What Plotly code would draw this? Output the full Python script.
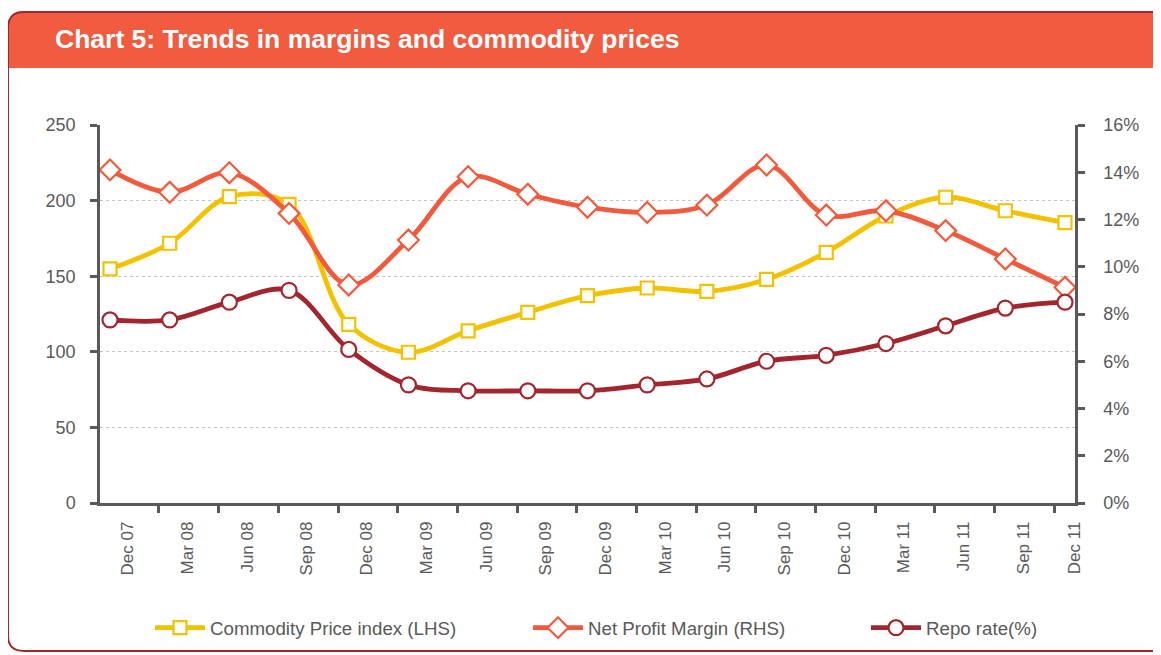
import plotly.graph_objects as go

categories = ["Dec 07", "Mar 08", "Jun 08", "Sep 08", "Dec 08", "Mar 09", "Jun 09", "Sep 09",
              "Dec 09", "Mar 10", "Jun 10", "Sep 10", "Dec 10", "Mar 11", "Jun 11", "Sep 11", "Dec 11"]
commodity_index = [154.8, 171.8, 202.6, 197.5, 118.2, 99.7, 113.9, 126.1, 137.1, 142.2, 140.0,
                   147.9, 165.8, 189.8, 202.2, 193.3, 185.4]
net_profit_margin = [14.1, 13.15, 13.98, 12.26, 9.23, 11.13, 13.81, 13.07, 12.52, 12.30, 12.61,
                     14.31, 12.19, 12.37, 11.53, 10.33, 9.13]
repo_rate = [7.75, 7.75, 8.5, 9.0, 6.5, 5.0, 4.75, 4.75, 4.75, 5.0, 5.25, 6.0, 6.25, 6.75, 7.5,
             8.25, 8.5]
left_ticks = [0, 50, 100, 150, 200, 250]
right_ticks = [0, 2, 4, 6, 8, 10, 12, 14, 16]
right_tick_text = ["0%", "2%", "4%", "6%", "8%", "10%", "12%", "14%", "16%"]

# the page body has an 8px margin; work in page pixels and convert
OFF = 8
PAGE_W, PAGE_H = 1161, 655
W, H = PAGE_W - OFF, PAGE_H - OFF
L, R, T, B = 100, 1075, 125, 503          # plot area in page pixels
PW, PH = R - L, B - T


def px(x):
    return (x - L) / PW


def py(y):
    return (B - y) / PH


def cx(x):
    return (x - OFF) / W


def cy(y):
    return 1 - (y - OFF) / H


xs = list(range(len(categories)))
FONT = "Liberation Sans, Arial, sans-serif"
GREY = "#595959"

YEL = "#F2C200"
ORG = "#F15A3C"
RED = "#A3262E"

fig = go.Figure()
fig.add_trace(go.Scatter(
    x=xs, y=commodity_index, name="Commodity Price index (LHS)", mode="lines+markers",
    line=dict(color=YEL, width=4.8, shape="spline", smoothing=1.0),
    marker=dict(symbol="square", size=13, color="white", line=dict(color=YEL, width=2.2)),
    yaxis="y", legend="legend"))
fig.add_trace(go.Scatter(
    x=xs, y=net_profit_margin, name="Net Profit Margin (RHS)", mode="lines+markers",
    line=dict(color=ORG, width=4.8, shape="spline", smoothing=1.0),
    marker=dict(symbol="diamond", size=16, color="white", line=dict(color=ORG, width=2.2)),
    yaxis="y2", legend="legend2"))
fig.add_trace(go.Scatter(
    x=xs, y=repo_rate, name="Repo rate(%)", mode="lines+markers",
    line=dict(color=RED, width=4.8, shape="spline", smoothing=1.0),
    marker=dict(symbol="circle", size=15, color="white", line=dict(color=RED, width=2.2)),
    yaxis="y2", legend="legend3"))

n = len(categories)
rng = [-0.1675, (n - 1) + 0.1675]
label_pos = [i + 0.3 for i in range(n - 1)] + [rng[1] - 0.005]
tick_pos = [i + 0.82 for i in range(n - 1)]

shapes = [
    dict(type="path", xref="paper", yref="paper", layer="below",
         path=(f"M {px(1175)},{py(11)} L {px(24)},{py(11)} Q {px(8)},{py(11)} {px(8)},{py(27)} "
               f"L {px(8)},{py(68)} L {px(1175)},{py(68)} Z"),
         fillcolor="#F15B40", line=dict(width=0)),
    dict(type="path", xref="paper", yref="paper", layer="below",
         path=(f"M {px(1175)},{py(12)} L {px(24)},{py(12)} Q {px(8)},{py(12)} {px(8)},{py(28)} "
               f"L {px(8)},{py(636)} Q {px(8)},{py(651)} {px(24)},{py(651)} L {px(1175)},{py(651)}"),
         line=dict(color="#A4262C", width=2)),
]


def leg(xpage):
    return dict(orientation="h", xref="container", yref="container",
                x=cx(xpage), xanchor="left", y=cy(628), yanchor="middle",
                font=dict(size=18.7, color=GREY), itemwidth=50, bgcolor="rgba(0,0,0,0)")


fig.update_layout(
    width=W, height=H,
    margin=dict(l=L - OFF, r=W - (R - OFF), t=T - OFF, b=H - (B - OFF), pad=0,
                autoexpand=False),
    paper_bgcolor="white", plot_bgcolor="white",
    font=dict(family=FONT, size=16, color=GREY),
    showlegend=True,
    legend=leg(150), legend2=leg(528), legend3=leg(866),
    xaxis=dict(range=rng, tickmode="array", tickvals=label_pos, ticktext=categories,
               tickangle=-90, ticks="", showgrid=False, zeroline=False, automargin=False,
               showline=True, linecolor=GREY, linewidth=2.5,
               tickfont=dict(size=17, color=GREY), ticklabelstandoff=9,
               minor=dict(tickmode="array", tickvals=tick_pos, ticks="outside", ticklen=7,
                          tickwidth=2.5, tickcolor=GREY, showgrid=False)),
    yaxis=dict(range=[0, 250], tickmode="array", tickvals=left_ticks, automargin=False,
               ticks="outside", ticklen=7, tickwidth=2.5, tickcolor=GREY,
               showline=True, linecolor=GREY, linewidth=2.5, zeroline=False,
               showgrid=True, gridcolor="#C4C4C4", gridwidth=1.2, griddash="dot",
               tickfont=dict(size=18, color=GREY), ticklabelstandoff=11),
    yaxis2=dict(range=[0, 16], tickmode="array", tickvals=right_ticks, ticktext=right_tick_text,
                overlaying="y", side="right", automargin=False,
                ticks="outside", ticklen=7, tickwidth=2.5, tickcolor=GREY,
                showline=True, linecolor=GREY, linewidth=2.5, zeroline=False, showgrid=False,
                tickfont=dict(size=18, color=GREY), ticklabelstandoff=15),
    shapes=shapes,
    annotations=[dict(text="Chart 5: Trends in margins and commodity prices",
                      xref="paper", yref="paper", x=px(53), y=py(39), xanchor="left",
                      yanchor="middle", showarrow=False,
                      font=dict(family=FONT, size=26.5, color="white", weight="bold"))],
)

fig.write_html("out.html")
